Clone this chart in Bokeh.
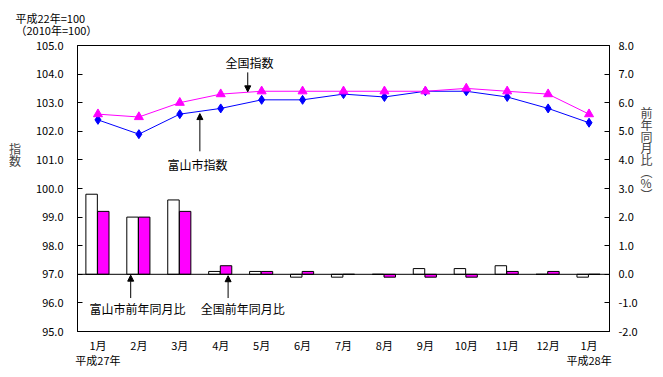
from bokeh.plotting import figure
from bokeh.models import (Range1d, LinearAxis, Span, Label, Arrow, NormalHead,
                          FixedTicker, PrintfTickFormatter, Title)
from bokeh.embed import file_html
from bokeh.resources import INLINE
import numpy as np

months = ["1月", "2月", "3月", "4月", "5月", "6月", "7月", "8月", "9月", "10月", "11月", "12月", "1月"]
year_notes = {0: "平成27年", 12: "平成28年"}
toyama_index = [102.4, 101.9, 102.6, 102.8, 103.1, 103.1, 103.3, 103.2, 103.4, 103.4, 103.2, 102.8, 102.3]
national_index = [102.6, 102.5, 103.0, 103.3, 103.4, 103.4, 103.4, 103.4, 103.4, 103.5, 103.4, 103.3, 102.6]
toyama_pct = [2.8, 2.0, 2.6, 0.1, 0.1, -0.1, -0.1, 0.0, 0.2, 0.2, 0.3, 0.0, -0.1]
national_pct = [2.2, 2.0, 2.2, 0.3, 0.1, 0.1, 0.0, -0.1, -0.1, -0.1, 0.1, 0.1, 0.0]
left_ticks = [95, 96, 97, 98, 99, 100, 101, 102, 103, 104, 105]
right_ticks = [-2, -1, 0, 1, 2, 3, 4, 5, 6, 7, 8]

FONT = "Noto Sans CJK JP"
MAGENTA = "#FF00FF"
BLUE = "#0000FF"
FILL = "\u3000"

x = np.arange(len(months)) + 0.5

p = figure(frame_width=532, frame_height=286,
           x_range=Range1d(0, len(months)), y_range=Range1d(95, 105),
           output_backend="svg", toolbar_location=None,
           min_border_left=77, min_border_right=46, min_border_top=45, min_border_bottom=30,
           background_fill_color="white", border_fill_color="white")
p.extra_y_ranges = {"pct": Range1d(-2, 8)}
p.xgrid.visible = False
p.ygrid.visible = False
p.outline_line_color = "black"
p.outline_line_alpha = 1.0

# top-left base note
p.add_layout(Title(text="平成22年=100\n（2010年=100）", align="left", offset=-62,
                   text_font=FONT, text_font_size="11px", text_font_style="normal",
                   text_color="black", standoff=14, text_line_height=0.8), "above")

# left axis
la = p.yaxis[0]
la.ticker = FixedTicker(ticks=left_ticks)
la.formatter = PrintfTickFormatter(format="%.1f")
la.major_tick_in = 5
la.major_tick_out = 0
la.minor_tick_line_color = None
la.axis_line_color = "black"
la.major_label_standoff = 14
la.major_label_text_font = FONT
la.major_label_text_font_size = "11px"
la.major_label_text_color = "black"
la.axis_label = "\n".join(["指", "数"] + [FILL] * 6)
la.axis_label_orientation = "horizontal"
la.axis_label_text_font = FONT
la.axis_label_text_font_size = "12px"
la.axis_label_text_font_style = "normal"
la.axis_label_text_line_height = 0.67
la.axis_label_standoff = 12

# right axis
ra = LinearAxis(y_range_name="pct", ticker=FixedTicker(ticks=right_ticks),
                formatter=PrintfTickFormatter(format="%.1f"))
ra.major_tick_in = 5
ra.major_tick_out = 0
ra.minor_tick_line_color = None
ra.major_label_standoff = 9
ra.major_label_text_font = FONT
ra.major_label_text_font_size = "11px"
ra.major_label_text_color = "black"
ra.axis_label = "\n".join(["前", "年", "同", "月", "比", "︵", "%", "︶"] + [FILL] * 6)
ra.axis_label_orientation = "horizontal"
ra.axis_label_text_font = FONT
ra.axis_label_text_font_size = "12px"
ra.axis_label_text_font_style = "normal"
ra.axis_label_text_line_height = 0.685
ra.axis_label_standoff = 0
p.add_layout(ra, "right")

# bottom axis (months)
ba = p.xaxis[0]
ba.ticker = FixedTicker(ticks=list(x))
ba.major_label_overrides = {float(xx): m for xx, m in zip(x, months)}
ba.major_tick_line_color = None
ba.minor_tick_line_color = None
ba.major_tick_in = 0
ba.major_tick_out = 0
ba.major_label_standoff = 5
ba.major_label_text_font = FONT
ba.major_label_text_font_size = "11px"
ba.major_label_text_color = "black"

# second bottom axis (year notes)
yx = [float(x[i]) for i in year_notes]
ya = LinearAxis(ticker=FixedTicker(ticks=yx),
                major_label_overrides={float(x[i]): t for i, t in year_notes.items()})
ya.axis_line_color = None
ya.major_tick_line_color = None
ya.minor_tick_line_color = None
ya.major_tick_in = 0
ya.major_tick_out = 0
ya.major_label_standoff = -4
ya.major_label_text_font = FONT
ya.major_label_text_font_size = "11px"
ya.major_label_text_color = "black"
p.add_layout(ya, "below")

# bars
p.vbar(x=x - 0.155, width=0.28, bottom=0, top=toyama_pct, y_range_name="pct",
       fill_color="white", line_color="black", line_width=1)
p.vbar(x=x + 0.13, width=0.28, bottom=0, top=national_pct, y_range_name="pct",
       fill_color=MAGENTA, line_color="black", line_width=1)
p.add_layout(Span(location=0, dimension="width", y_range_name="pct",
                  line_color="black", line_width=1))

# lines
p.line(x, toyama_index, line_color=BLUE, line_width=1)
p.scatter(x, toyama_index, marker="diamond", size=9, fill_color=BLUE, line_color=BLUE)
p.line(x, national_index, line_color=MAGENTA, line_width=1)
p.scatter(x, national_index, marker="triangle", size=9, fill_color=MAGENTA, line_color=MAGENTA)

def lab(text, xx, yy, size="12px", rng="default", align="center"):
    p.add_layout(Label(x=xx, y=yy, text=text, text_font=FONT, text_font_size=size,
                       text_align=align, text_baseline="middle", text_color="black",
                       y_range_name=rng))

def arr(x0, y0, x1, y1, rng="default"):
    p.add_layout(Arrow(end=NormalHead(size=6, fill_color="black", line_color="black"),
                       x_start=x0, y_start=y0, x_end=x1, y_end=y1,
                       line_color="black", line_width=1, y_range_name=rng))

# in-plot annotations
lab("全国指数", 4.2, 104.41)
arr(4.16, 104.06, 4.16, 103.38)
lab("富山市指数", 2.93, 100.84)
arr(2.99, 101.30, 2.99, 102.62)
lab("富山市前年同月比", 1.466, -1.19, rng="pct")
arr(1.30, -0.83, 1.30, -0.03, rng="pct")
lab("全国前年同月比", 4.04, -1.19, rng="pct")
arr(3.68, -0.83, 3.68, -0.05, rng="pct")

open("out.html", "w").write(file_html(p, INLINE))
